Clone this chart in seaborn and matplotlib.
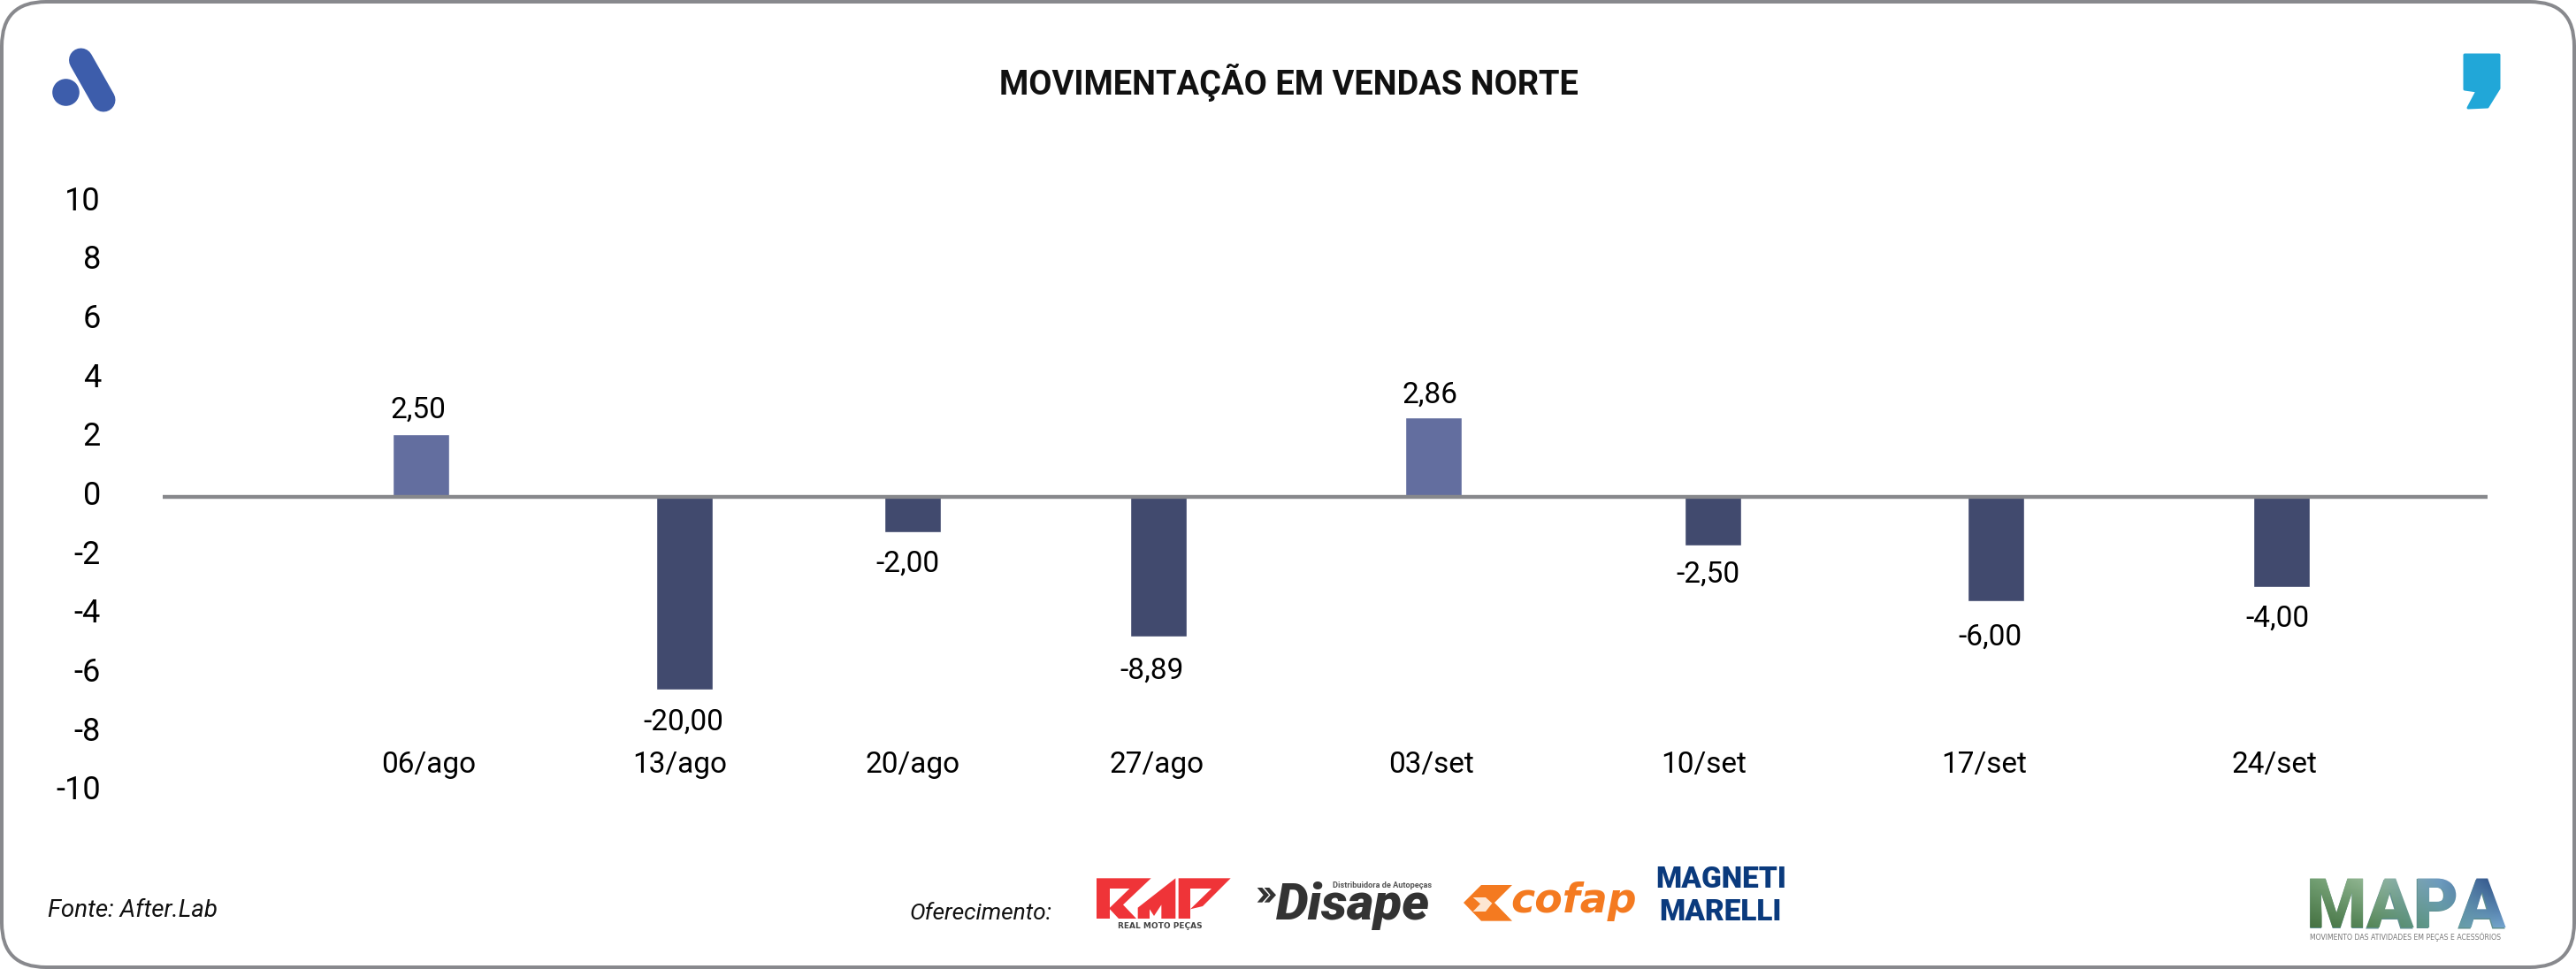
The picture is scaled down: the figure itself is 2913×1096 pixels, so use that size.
import numpy as np
import pandas as pd
import seaborn as sns
import matplotlib
matplotlib.use("Agg")
import matplotlib.pyplot as plt
from matplotlib.patches import FancyBboxPatch, Circle, Polygon, PathPatch
from matplotlib.lines import Line2D
from matplotlib.textpath import TextPath
from matplotlib.font_manager import FontProperties
from matplotlib.transforms import Affine2D
from matplotlib.colors import to_rgb

# ---- data ----
semanas = ["06/ago", "13/ago", "20/ago", "27/ago", "03/set", "10/set", "17/set", "24/set"]
barras = [2.13, -6.53, -1.21, -4.75, 2.70, -1.64, -3.54, -3.05]
rotulos = ["2,50", "-20,00", "-2,00", "-8,89", "2,86", "-2,50", "-6,00", "-4,00"]
pos_barras = [475.5, 773.5, 1031.5, 1309.5, 1620.5, 1936.5, 2256.5, 2579.5]
pos_semanas = [485, 769, 1032, 1308, 1619, 1927, 2244, 2572]
pos_rotulos = [473, 773, 1026, 1303, 1617, 1931, 2250, 2575]
alt_rotulos = [2.94, -7.65, -2.28, -5.91, 3.45, -2.64, -4.77, -4.14]
ticks_y = [10, 8, 6, 4, 2, 0, -2, -4, -6, -8, -10]
titulo = "MOVIMENTAÇÃO EM VENDAS NORTE"

W, H = 2913, 1096
DPI = 100
Y0 = 562
PX_UNIT = 33.35
ptpx = 72 / DPI

sns.set_theme(style="white")
plt.rcParams["font.family"] = ["Roboto", "DejaVu Sans"]
fig = plt.figure(figsize=(W / DPI, H / DPI), dpi=DPI, facecolor="white")
ax = fig.add_axes([0, 0, 1, 1])

df = pd.DataFrame({"x": pos_barras, "y": barras})
cores = {v: ("#636e9f" if v > 0 else "#414a6e") for v in barras}
sns.barplot(df, x="x", y="y", hue="y", palette=cores, legend=False, native_scale=True,
            width=64 / 258, saturation=1, ax=ax, zorder=2)
ax.set_xlim(0, W)
ax.set_ylim(-(H - Y0) / PX_UNIT, Y0 / PX_UNIT)
ax.set_xlabel("")
ax.set_ylabel("")
for s in ax.spines.values():
    s.set_visible(False)
ax.patch.set_alpha(0)
ax.grid(False)

ax.set_yticks(ticks_y)
ax.set_yticklabels([str(v) for v in ticks_y], fontsize=26, color="black", ha="right")
ax.tick_params(axis="y", length=0, pad=-114 * ptpx)
for lb in ax.get_yticklabels():
    lb.set_transform(lb.get_transform() + Affine2D().translate(0, 5))

ax.set_xticks(pos_semanas)
ax.set_xticklabels(semanas, fontsize=24, color="black", va="center")
ax.tick_params(axis="x", length=0, pad=0)
for lb in ax.get_xticklabels():
    lb.set_transform(lb.get_transform() + Affine2D().translate(0, H - 865))

for x, y, t in zip(pos_rotulos, alt_rotulos, rotulos):
    ax.text(x, y, t, fontsize=24, color="black", ha="center", va="center", zorder=4)

ax.plot([184, 2813], [0, 0], color="#87888c", lw=4.4 * ptpx, solid_capstyle="butt", zorder=3)

# ---- overlay in pixel coordinates: frame, title, footer, logos ----
ov = fig.add_axes([0, 0, 1, 1], facecolor="none")
ov.set_xlim(0, W)
ov.set_ylim(H, 0)
ov.axis("off")

ov.add_patch(FancyBboxPatch((2, 2), W - 4, H - 4, boxstyle="round,pad=0,rounding_size=50",
                            fc="none", ec="#88898d", lw=4 * ptpx))
ov.text(1457, 93, titulo, fontsize=27.4, fontweight="bold", color="#111111", ha="center", va="center")
ov.text(54, 1030, "Fonte: After.Lab", fontsize=20, style="italic", color="#111111", va="center")
ov.text(1029, 1033, "Oferecimento:", fontsize=19, style="italic", color="#111111", va="center")

# left logo
ov.add_line(Line2D([91.5, 117], [68, 113], color="#3d5dab", lw=27 * ptpx, solid_capstyle="round"))
ov.add_patch(Circle((74.5, 104.5), 15.3, fc="#3d5dab", ec="none"))
# right logo
ov.add_patch(Polygon([(2787, 62), (2826, 62), (2826, 100), (2813, 121), (2791, 122), (2801, 103), (2787, 101)],
                     closed=True, fc="#21a7d8", ec="#21a7d8", lw=3 * ptpx, joinstyle="round"))


def zp(pts, x0, y0=960):
    return [(x0 + a / 3, y0 + b / 3) for a, b in pts]


# RMP
RED = "#ef3438"
ov.add_patch(Polygon(zp([(60, 100), (245, 100), (150, 190), (195, 237), (135, 237), (105, 205), (105, 237), (60, 237)], 1220), fc=RED, ec="none"))
ov.add_patch(Polygon(zp([(105, 135), (172, 135), (105, 200)], 1220), fc="white", ec="none"))
ov.add_patch(Polygon(zp([(200, 237), (200, 200), (328, 100), (328, 237), (280, 237), (280, 190), (255, 228), (240, 205), (240, 237)], 1220), fc=RED, ec="none"))
ov.add_patch(Polygon(zp([(338, 100), (515, 100), (420, 195), (378, 205), (378, 237), (338, 237)], 1220), fc=RED, ec="none"))
ov.add_patch(Polygon(zp([(378, 135), (450, 135), (378, 205)], 1220), fc="white", ec="none"))
ov.text(1312, 1048, "REAL MOTO PEÇAS", fontsize=6.5, family="DejaVu Sans", fontweight="bold", color="#444444", ha="center", va="center")

# Disape
DK = "#333333"
for dx in (0, 24):
    ov.add_patch(Polygon(zp([(605 + dx, 132), (622 + dx, 132), (645 + dx, 157), (622 + dx, 182), (605 + dx, 182), (626 + dx, 157)], 1220), fc=DK, ec="none"))
ov.text(1443, 1040, "Disape", fontsize=42, fontweight="black", style="italic", color=DK, va="baseline")
ov.text(1507, 1001, "Distribuidora de Autopeças", fontsize=6.6, fontweight="bold", color="#555555", va="center")

# cofap
OR = "#f47a20"
ov.add_patch(Polygon(zp([(75, 183), (135, 123), (240, 123), (180, 183), (240, 245), (135, 245)], 1630), fc=OR, ec="none"))
ov.add_patch(Polygon(zp([(107, 165), (150, 165), (172, 185), (150, 213), (107, 213), (132, 187)], 1630), fc="#fde6d2", ec="none"))
ov.text(1708, 1032, "cofap", fontsize=33, family="DejaVu Sans", fontweight="bold", style="italic", color=OR, va="baseline")

# Magneti Marelli
NV = "#0a3a7d"
ov.text(1946, 995, "MAGNETI", fontsize=24, fontweight="black", color=NV, ha="center", va="center")
ov.text(1946, 1032, "MARELLI", fontsize=24, fontweight="black", color=NV, ha="center", va="center")

# MAPA, gradient clipped to the glyphs of the real text
msize_px = 78
mx, my = 2608, 1049
fp = FontProperties(family="Roboto", weight="black")
ov.text(mx, my, "MAPA", fontsize=msize_px * ptpx, fontweight="black", color="#5f8f8f", va="baseline")
tp = TextPath((0, 0), "MAPA", size=msize_px, prop=fp)
patch = PathPatch(tp, transform=Affine2D().scale(1, -1).translate(mx, my) + ov.transData, fc="none", ec="none")
ov.add_patch(patch)
stops_top = ["#6f9f70", "#9fc0a0", "#6f9ac8", "#0d2a66"]
stops_bot = ["#3f6a3a", "#4d8050", "#5f9a8f", "#7fb0e0"]
xs = np.linspace(0, 1, 4)
grid_x = np.linspace(0, 1, 220)
gy = np.linspace(0, 1, 60)
top = np.array([np.interp(grid_x, xs, [to_rgb(c)[i] for c in stops_top]) for i in range(3)]).T
bot = np.array([np.interp(grid_x, xs, [to_rgb(c)[i] for c in stops_bot]) for i in range(3)]).T
img = np.array([top * (1 - t) + bot * t for t in gy])
im = ov.imshow(img, extent=(2600, 2840, 1055, 985), aspect="auto", zorder=3)
im.set_clip_path(patch)
ov.set_xlim(0, W)
ov.set_ylim(H, 0)
ov.text(2720, 1060, "MOVIMENTO DAS ATIVIDADES EM PEÇAS E ACESSÓRIOS", fontsize=5.6, family="DejaVu Sans", color="#777777", ha="center", va="center")

fig.savefig("out.png", dpi=DPI)
